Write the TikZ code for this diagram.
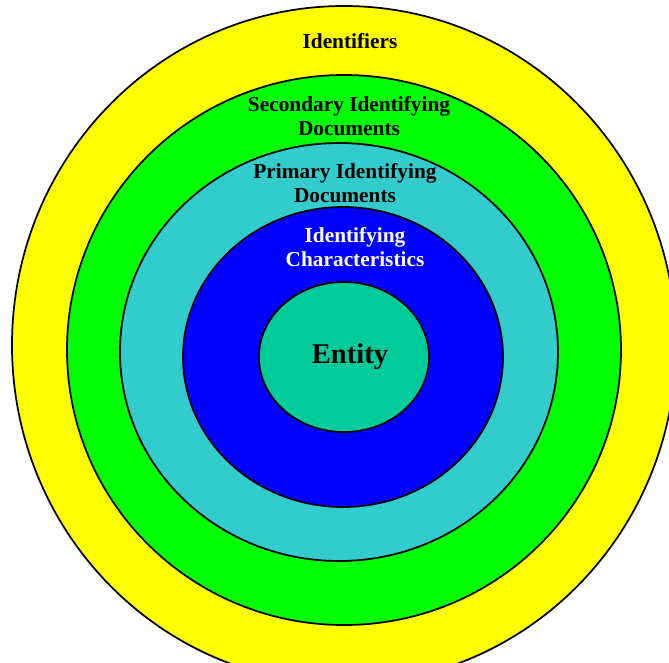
\documentclass[tikz,border=0pt]{standalone}
\usepackage{fontspec}
\setmainfont{Liberation Serif}
\usetikzlibrary{positioning}
\definecolor{sun}{RGB}{255,255,0}
\definecolor{lime}{RGB}{0,255,0}
\definecolor{teal}{RGB}{51,204,204}
\definecolor{royal}{RGB}{0,0,255}
\definecolor{jade}{RGB}{0,204,153}

\begin{document}
\begin{tikzpicture}[x=0.75pt,y=-0.75pt,
    ring/.style={draw=black,line width=1.3pt},
    lbl/.style={font=\fontsize{16}{17.5}\selectfont\bfseries,align=center,inner sep=0pt}]
    \useasboundingbox (0,0) rectangle (669,662);
    \clip (0,0) rectangle (669,662);
    % rings, outside in
    \foreach \cx/\cy/\rx/\ry/\c in {344/345/332/339/sun,344/350/277/275/lime,
      339/352/219/209/teal,343/357/160/150/royal,344/357/85/75/jade}
      \draw[ring,fill=\c] (\cx,\cy) ellipse [x radius=\rx,y radius=\ry];
    % labels
    \node[lbl] (ident) at (350,41) {Identifiers};
    \node[lbl] (second) at (349,116) {Secondary Identifying\\Documents};
    \node[lbl] (primary) at (345,183) {Primary Identifying\\Documents};
    \node[lbl,text=white] (charac) at (355,247) {Identifying\\Characteristics};
    \node[font=\fontsize{21.5}{24}\selectfont\bfseries] (entity) at (350,357) {Entity};
  \end{tikzpicture}
\end{document}
